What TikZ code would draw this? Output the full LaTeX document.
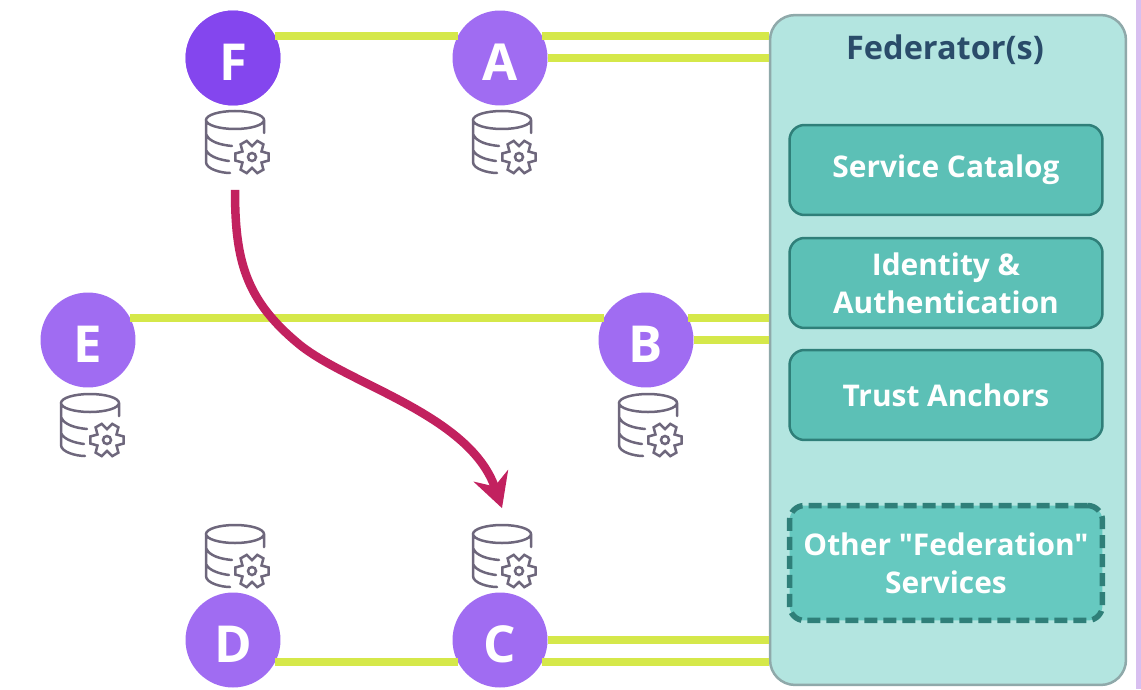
\documentclass[tikz,border=0pt]{standalone}
\usepackage{fontspec}
\setmainfont[Ligatures=TeXOff]{Open Sans}
\usetikzlibrary{arrows.meta, calc}
\definecolor{nodepurple}{HTML}{A06CF2}
\definecolor{nodedark}{HTML}{8446EE}
\definecolor{linelime}{HTML}{D5E84A}
\definecolor{panelteal}{HTML}{B3E5E0}
\definecolor{panelline}{HTML}{8FA9AA}
\definecolor{boxteal}{HTML}{5CC0B6}
\definecolor{otherteal}{HTML}{66C9C0}
\definecolor{boxline}{HTML}{2F7F79}
\definecolor{titleblue}{HTML}{2A4C6A}
\definecolor{flowred}{HTML}{C2215F}
\definecolor{icongray}{HTML}{6E677C}
\definecolor{edgelilac}{HTML}{D8BFF0}
\tikzset{
    orgnode/.style={circle, fill=nodepurple, minimum size=1.9cm, inner sep=0pt, text=white, text height=0.9cm, text depth=0pt, font=\fontsize{29}{29}\selectfont\bfseries},
    fedline/.style={draw=linelime, line width=0.16cm},
    panelbox/.style={rectangle, rounded corners=0.5cm, fill=panelteal, draw=panelline, line width=0.05cm, minimum width=7.12cm, minimum height=13.4cm},
    servicebox/.style={rectangle, rounded corners=0.3cm, fill=boxteal, draw=boxline, line width=0.05cm, minimum width=6.26cm, minimum height=1.8cm, align=center, text=white, font=\fontsize{17}{21.5}\selectfont\bfseries},
    otherbox/.style={servicebox, fill=otherteal, dashed, dash pattern=on 0.26cm off 0.12cm, line width=0.11cm, minimum height=2.3cm},
    dbanchor/.style={rectangle, minimum width=1.2cm, minimum height=1.9cm, inner sep=0pt},
    dbicon/.pic={
        \draw[icongray, line width=0.05cm, line cap=round]
            (0,-22) ellipse [x radius=29, y radius=9]
            (-29,-22) -- (-29,20) .. controls (-29,27) and (-14,31) .. (-5,31)
            (-29,-8) .. controls (-26,0) and (-14,3) .. (-3,4)
            (-29,8) .. controls (-26,15) and (-14,18) .. (-6,19)
            (29,-22) -- (29,-9);
        \draw[icongray, line width=0.05cm, fill=white, shift={(17,15)}]
            (-12:17) \foreach \a in {0,60,...,300} { -- (\a-12:17) -- (\a+12:17) -- (\a+30:11) } -- cycle;
        \draw[icongray, line width=0.05cm, shift={(17,15)}] (0,0) circle (4);
    }
}
\begin{document}
\begin{tikzpicture}[x=0.02cm, y=-0.02cm]
            \useasboundingbox (0,0) rectangle (1141,689);
            \fill[edgelilac] (1136,0) rectangle (1141,689);

            \node[panelbox] (panel) at (948,350) {};
            \node[text=titleblue, font=\fontsize{18.5}{22}\selectfont\bfseries] (paneltitle) at (945,50) {Federator(s)};
            \node[servicebox] (catalog) at (946,170) {Service Catalog};
            \node[servicebox] (identity) at (946,283) {Identity \&\\Authentication};
            \node[servicebox] (trust) at (946,395) {Trust Anchors};
            \node[otherbox] (other) at (946,563) {Other "Federation"\\Services};

            \foreach \x/\y/\n in {233/58/F, 500/58/A, 88/340/E, 646/340/B, 233/640/D, 500/640/C} {
                \node[orgnode] (\n) at (\x,\y) {\n};
            }
            \node[orgnode, fill=nodedark] at (F) {F};

            \draw[fedline] (F.28) -- (A.152);
            \draw[fedline] (A.28) -- (A.28 -| panel.west);
            \draw[fedline] (A.east) -- (A.east -| panel.west);
            \draw[fedline] (E.28) -- (B.152);
            \draw[fedline] (B.28) -- (B.28 -| panel.west);
            \draw[fedline] (B.east) -- (B.east -| panel.west);
            \draw[fedline] (D.-28) -- (C.208);
            \draw[fedline] (C.east) -- (C.east -| panel.west);
            \draw[fedline] (C.-28) -- (C.-28 -| panel.west);

            \foreach \x/\y/\n in {235/142/F, 502/142/A, 90/425/E, 648/425/B, 235/556/D, 502/556/C} {
                \node[dbanchor] (db\n) at (\x,\y) {};
                \pic at (db\n) {dbicon};
            }

            \draw[flowred, line width=0.17cm, -{Stealth[length=0.68cm, width=0.72cm]}]
                (dbF.south) .. controls (235,260) and (245,300) .. (300,345)
                .. controls (350,385) and (470,415) .. (dbC.north);
        \end{tikzpicture}
\end{document}
